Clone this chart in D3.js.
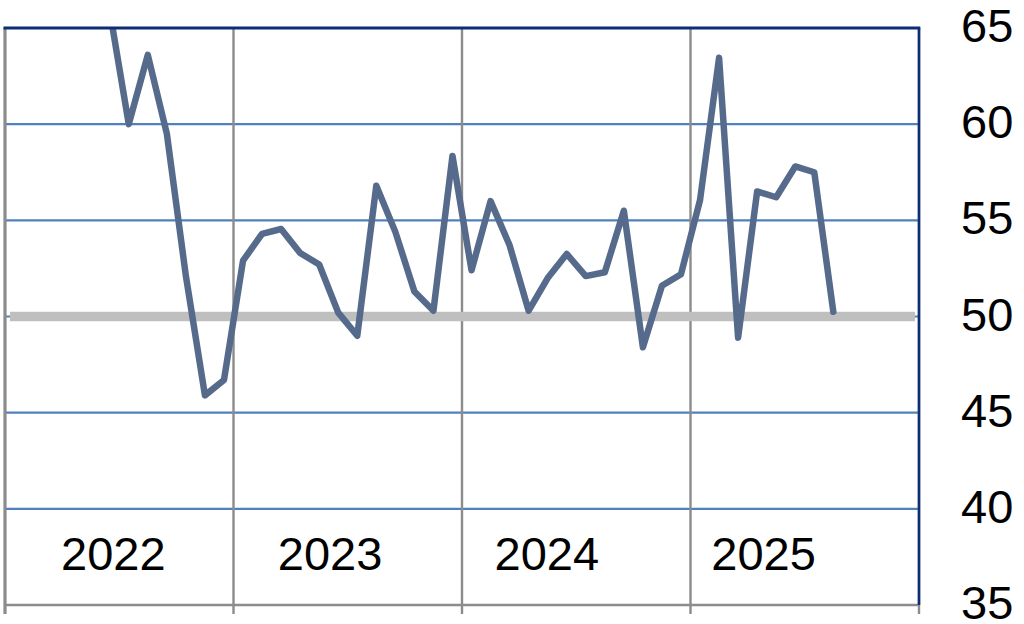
<!DOCTYPE html>
<html>
<head>
<meta charset="utf-8">
<script src="https://cdn.jsdelivr.net/npm/d3@7"></script>
<style>
  html, body { margin: 0; padding: 0; background: #fff; }
  svg { display: block; font-family: "Liberation Sans", Arial, sans-serif; }
</style>
</head>
<body>
<svg id="chart" width="1024" height="624"></svg>
<script>
// ---- data ----
const years = ["2022", "2023", "2024", "2025"];
const months = [
  "2022-06","2022-07","2022-08","2022-09","2022-10","2022-11","2022-12",
  "2023-01","2023-02","2023-03","2023-04","2023-05","2023-06","2023-07","2023-08","2023-09","2023-10","2023-11","2023-12",
  "2024-01","2024-02","2024-03","2024-04","2024-05","2024-06","2024-07","2024-08","2024-09","2024-10","2024-11","2024-12",
  "2025-01","2025-02","2025-03","2025-04","2025-05","2025-06","2025-07","2025-08"
];
const values = [
  65.9, 60.0, 63.6, 59.5, 52.1, 45.9, 46.7,
  52.9, 54.3, 54.55, 53.3, 52.7, 50.2, 49.0, 56.8, 54.4, 51.3, 50.3, 58.35,
  52.4, 56.0, 53.7, 50.3, 52.0, 53.25, 52.1, 52.3, 55.5, 48.4, 51.6, 52.2,
  56.05, 63.45, 48.9, 56.5, 56.2, 57.8, 57.5, 50.25
];
const yTicks = [35, 40, 45, 50, 55, 60, 65];
const referenceLevel = 50;

// ---- layout ----
const L = 5, R = 919, T = 28, B = 605;
const svg = d3.select("#chart");

const monthIndex = m => { const [y, mo] = m.split("-").map(Number); return (y - 2022) * 12 + (mo - 1); };
const x = d3.scaleLinear().domain([-0.5, years.length * 12 - 0.5]).range([L, R]);
const y = d3.scaleLinear().domain([35, 65]).range([B, T]);
const yearBand = d3.scaleBand().domain(years).range([L, R]);
const labelBand = d3.scaleBand().domain(years).range([L, 872]);

// horizontal gridlines
svg.append("g").selectAll("line").data(yTicks.filter(t => t !== 35 && t !== 65)).join("line")
  .attr("x1", L).attr("x2", R)
  .attr("y1", d => y(d)).attr("y2", d => y(d))
  .attr("stroke", "#4f81bd").attr("stroke-width", 2.2);

// vertical gridlines (year boundaries) with ticks below
const bounds = years.map(yr => yearBand(yr)).concat([R]);
svg.append("g").selectAll("line").data(bounds).join("line")
  .attr("x1", d => d).attr("x2", d => d)
  .attr("y1", T).attr("y2", B + 9)
  .attr("stroke", "#8c8c8c").attr("stroke-width", 2.4);

// reference line at 50
svg.append("line")
  .attr("x1", L + 5).attr("x2", R - 4)
  .attr("y1", y(referenceLevel)).attr("y2", y(referenceLevel))
  .attr("stroke", "#bfbfbf").attr("stroke-width", 9.5);

// clip
svg.append("clipPath").attr("id", "plotclip").append("rect")
  .attr("x", L).attr("y", T).attr("width", R - L).attr("height", B - T);

const line = d3.line()
  .x((d, i) => x(monthIndex(months[i])))
  .y(d => y(d));

svg.append("path")
  .datum(values)
  .attr("clip-path", "url(#plotclip)")
  .attr("d", line)
  .attr("fill", "none")
  .attr("stroke", "#566b8c")
  .attr("stroke-width", 6.5)
  .attr("stroke-linejoin", "round")
  .attr("stroke-linecap", "round");

// borders
svg.append("line").attr("x1", L).attr("x2", R).attr("y1", B).attr("y2", B)
  .attr("stroke", "#8c8c8c").attr("stroke-width", 2.4);
svg.append("line").attr("x1", L).attr("x2", L).attr("y1", T).attr("y2", B + 9)
  .attr("stroke", "#8c8c8c").attr("stroke-width", 3);
svg.append("line").attr("x1", R).attr("x2", R).attr("y1", T).attr("y2", B)
  .attr("stroke", "#0d2d74").attr("stroke-width", 2.6);
svg.append("line").attr("x1", L - 1.5).attr("x2", R + 1.3).attr("y1", T).attr("y2", T)
  .attr("stroke", "#0d2d74").attr("stroke-width", 3);

// y labels on the right
svg.append("g").selectAll("text").data(yTicks).join("text")
  .attr("x", 961)
  .attr("y", d => y(d) + 14)
  .attr("font-size", 47)
  .attr("fill", "#000")
  .text(d => d);

// year labels
svg.append("g").selectAll("text").data(years).join("text")
  .attr("x", d => labelBand(d) + labelBand.bandwidth() / 2)
  .attr("y", 570)
  .attr("text-anchor", "middle")
  .attr("font-size", 47)
  .attr("fill", "#000")
  .text(d => d);
</script>
</body>
</html>
